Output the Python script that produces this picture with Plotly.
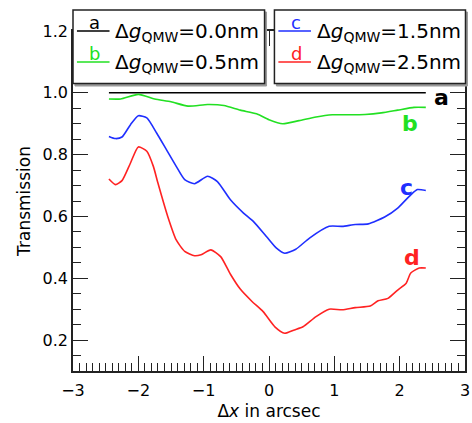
import plotly.graph_objects as go

# ---------------- data ----------------
x_a = [-2.45, 2.40]
t_a = [1.0, 1.0]

x_b = [-2.45, -2.27, -2.0, -1.75, -1.5, -1.24, -0.94, -0.69, -0.44, -0.19, 0.0, 0.21,
       0.46, 0.72, 0.97, 1.22, 1.47, 1.72, 1.97, 2.22, 2.40]
t_b = [0.980, 0.980, 0.995, 0.980, 0.971, 0.957, 0.962, 0.959, 0.944, 0.932, 0.913, 0.900,
       0.910, 0.922, 0.929, 0.929, 0.930, 0.935, 0.944, 0.953, 0.953]

x_c = [-2.45, -2.35, -2.25, -2.12, -2.0, -1.87, -1.72, -1.57, -1.42, -1.29, -1.14, -0.94,
       -0.79, -0.59, -0.39, -0.24, -0.04, 0.11, 0.24, 0.41, 0.62, 0.92, 1.12, 1.32, 1.52,
       1.77, 1.97, 2.17, 2.27, 2.40]
t_c = [0.859, 0.852, 0.857, 0.897, 0.926, 0.919, 0.870, 0.816, 0.762, 0.719, 0.706, 0.730,
       0.713, 0.654, 0.611, 0.584, 0.535, 0.498, 0.481, 0.494, 0.530, 0.568, 0.568, 0.574,
       0.576, 0.598, 0.627, 0.670, 0.687, 0.684]

x_d = [-2.45, -2.35, -2.25, -2.12, -2.0, -1.87, -1.77, -1.70, -1.55, -1.42, -1.29, -1.14,
       -1.04, -0.89, -0.74, -0.59, -0.44, -0.26, -0.09, 0.09, 0.24, 0.39, 0.52, 0.72, 0.92,
       1.12, 1.32, 1.55, 1.67, 1.82, 1.97, 2.10, 2.17, 2.30, 2.40]
t_d = [0.721, 0.703, 0.716, 0.773, 0.825, 0.811, 0.762, 0.708, 0.600, 0.524, 0.487, 0.473,
       0.476, 0.492, 0.470, 0.413, 0.365, 0.325, 0.292, 0.243, 0.222, 0.233, 0.243, 0.276,
       0.300, 0.298, 0.305, 0.310, 0.327, 0.335, 0.362, 0.384, 0.417, 0.433, 0.433]

series_letters = ["a", "b", "c", "d"]
delta_g = ["0.0", "0.5", "1.5", "2.5"]
colors = ["#000000", "#22e022", "#1f2fff", "#ff2222"]
label_x = [2.64, 2.16, 2.10, 2.19]
label_y = [0.984, 0.900, 0.695, 0.468]

xs = [x_a, x_b, x_c, x_d]
ts = [t_a, t_b, t_c, t_d]

x_ticks = [-3, -2, -1, 0, 1, 2, 3]
y_ticks = [0.2, 0.4, 0.6, 0.8, 1.0, 1.2]

# ---------------- layout helpers ----------------
W, H = 472, 423
L, R, T, B = 73, 2, 31, 52
PW, PH = W - L - R, H - T - B
FONT = "DejaVu Sans"


def px(xp):
    return (xp - L) / PW


def py(yp):
    return (H - B - yp) / PH


fig = go.Figure()
for x, t, c in zip(xs, ts, colors):
    fig.add_trace(go.Scatter(x=x, y=t, mode="lines",
                             line=dict(color=c, width=1.6, shape="spline", smoothing=0.6),
                             showlegend=False, hoverinfo="skip"))

annotations = []
shapes = []

# curve labels
for s, c, lx, ly in zip(series_letters, colors, label_x, label_y):
    annotations.append(dict(x=lx, y=ly, xref="x", yref="y", text="<b>%s</b>" % s,
                            showarrow=False, xanchor="center", yanchor="middle",
                            font=dict(family=FONT, size=22, color=c)))

# legend boxes
boxes = [(73, 267), (277, 470.5)]
for x0, x1 in boxes:
    shapes.append(dict(type="rect", xref="paper", yref="paper", layer="above",
                       x0=px(x0 + 2), x1=px(x1 + 2), y0=py(86), y1=py(12),
                       line=dict(color="#999999", width=1), fillcolor="#999999"))
    shapes.append(dict(type="rect", xref="paper", yref="paper", layer="above",
                       x0=px(x0), x1=px(x1), y0=py(83.5), y1=py(10),
                       line=dict(color="#222222", width=1.5), fillcolor="white"))

entry_pos = [(77, 31), (77, 62), (281, 31), (281, 62)]
for (ex, ey), s, c, dg in zip(entry_pos, series_letters, colors, delta_g):
    shapes.append(dict(type="line", xref="paper", yref="paper", layer="above",
                       x0=px(ex), x1=px(ex + 33), y0=py(ey), y1=py(ey),
                       line=dict(color=c, width=1.5)))
    annotations.append(dict(x=px(ex + 18), y=py(ey - 9), xref="paper", yref="paper",
                            text=s, showarrow=False, xanchor="center", yanchor="middle",
                            font=dict(family=FONT, size=18, color=c)))
    annotations.append(dict(x=px(ex + 37), y=py(ey + 1), xref="paper", yref="paper",
                            text="Δ<i>g</i><sub>QMW</sub>=%snm" % dg, showarrow=False,
                            xanchor="left", yanchor="middle",
                            font=dict(family=FONT, size=20, color="black")))

axis_common = dict(showline=True, linecolor="#222222", linewidth=1.5, mirror="ticks",
                   ticks="inside", ticklen=15, tickwidth=1.3, tickcolor="#222222",
                   showgrid=False, zeroline=False,
                   tickfont=dict(family=FONT, size=16, color="black"))

fig.update_layout(
    width=W, height=H,
    margin=dict(l=L, r=R, t=T, b=B, pad=0),
    paper_bgcolor="white", plot_bgcolor="white",
    xaxis=dict(range=[-3, 3], tickvals=x_ticks,
               ticktext=[("−%d" % -v) if v < 0 else str(v) for v in x_ticks],
               ticklabeloverflow="allow", ticklabelstandoff=4,
               minor=dict(dtick=0.1, tick0=0, ticks="inside", ticklen=8, tickwidth=1.2,
                          tickcolor="#222222", showgrid=False),
               title=dict(text="Δ<i>x</i> in arcsec", standoff=6,
                          font=dict(family=FONT, size=17, color="black")),
               **axis_common),
    yaxis=dict(range=[0.1, 1.2], tickvals=y_ticks,
               ticktext=["%.1f" % v for v in y_ticks],
               minor=dict(dtick=0.05, tick0=0, ticks="inside", ticklen=8, tickwidth=1.2,
                          tickcolor="#222222", showgrid=False),
               title=dict(text="Transmission", standoff=8,
                          font=dict(family=FONT, size=17, color="black")),
               **axis_common),
    shapes=shapes,
    annotations=annotations,
)

fig.write_html("out.html", config={"displayModeBar": False},
               post_script="document.body.style.margin='0';document.body.style.overflow='hidden';")
